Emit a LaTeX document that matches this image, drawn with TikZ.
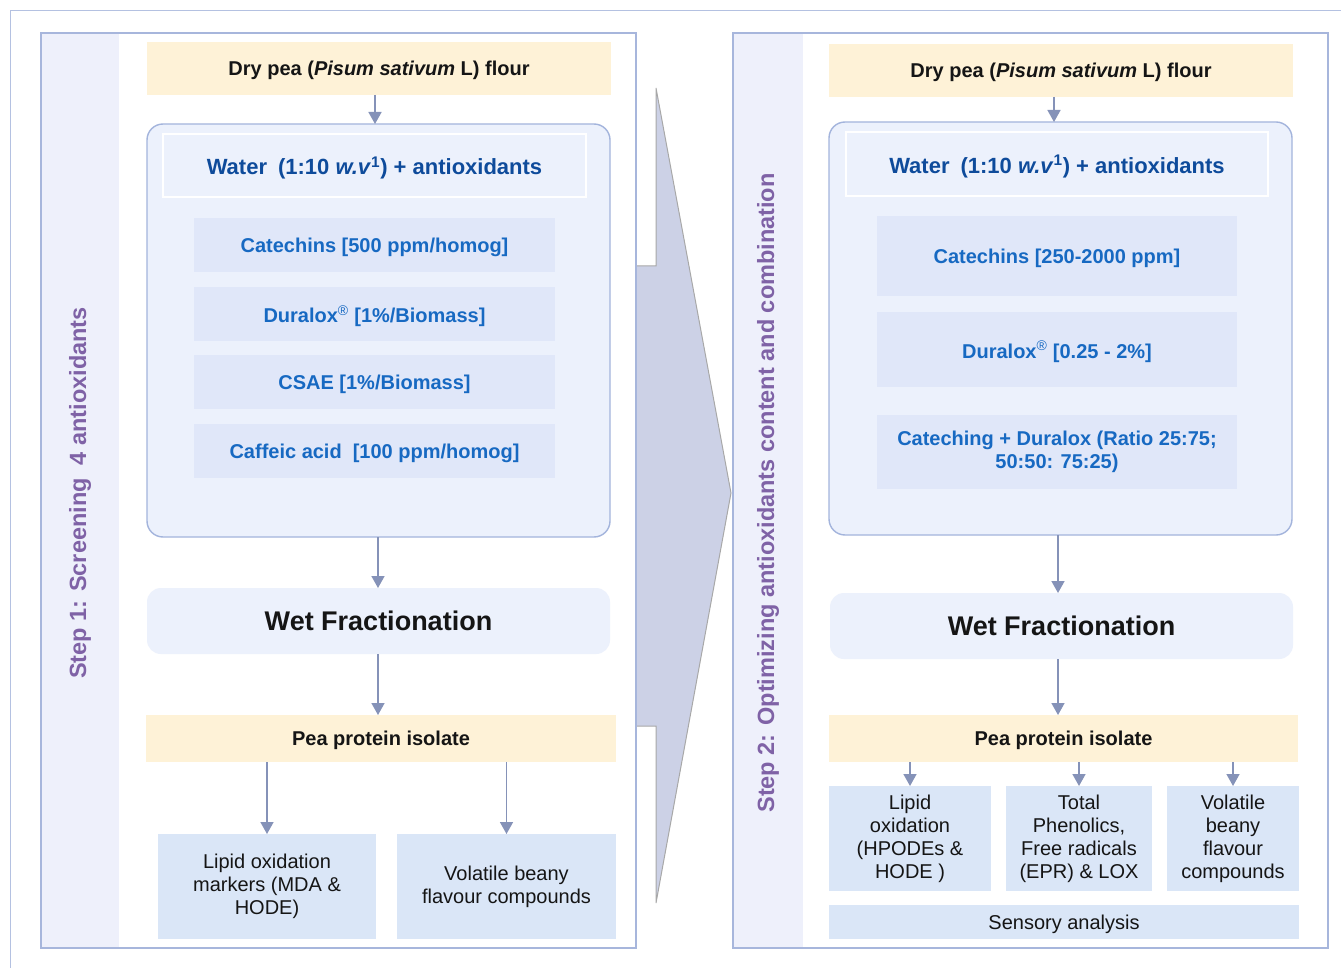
\documentclass[tikz,border=0pt]{standalone}
\usepackage{fontspec}
\setmainfont{Liberation Sans}
\usetikzlibrary{arrows.meta}
\definecolor{framec}{HTML}{A7B6DC}
\definecolor{stripc}{HTML}{EEF0FB}
\definecolor{purplec}{HTML}{7F62A6}
\definecolor{creamc}{HTML}{FEF2D7}
\definecolor{contc}{HTML}{ECF1FC}
\definecolor{contb}{HTML}{A3B4DC}
\definecolor{antic}{HTML}{E0E7F9}
\definecolor{antit}{HTML}{1769C2}
\definecolor{watert}{HTML}{0E4B9B}
\definecolor{resc}{HTML}{DAE6F7}
\definecolor{arrc}{HTML}{8592B8}
\definecolor{bigc}{HTML}{CCD1E6}
\definecolor{bigb}{HTML}{A8A8A8}
\definecolor{textc}{HTML}{151515}
\begin{document}
\begin{tikzpicture}[x=1pt,y=-1pt,
  every node/.style={inner sep=0pt, outer sep=0pt, align=center, text=textc},
  sz/.style 2 args={minimum width=#1, minimum height=#2},
  oneline/.style={text depth=0pt},
  creambox/.style={oneline, fill=creamc, font=\fontsize{20}{23}\selectfont\bfseries},
  container/.style={fill=contc, draw=contb, line width=1.4pt, rounded corners=16pt},
  waterbox/.style={oneline, fill=contc, draw=white, line width=2pt, text=watert, font=\fontsize{22}{25}\selectfont\bfseries},
  antibox/.style={fill=antic, text=antit, font=\fontsize{20}{23}\selectfont\bfseries},
  wetbox/.style={oneline, fill=contc, rounded corners=14pt, font=\fontsize{27}{30}\selectfont\bfseries},
  resbox/.style={fill=resc, font=\fontsize{20}{23}\selectfont},
  steptext/.style={rotate=90, text=purplec, font=\fontsize{23.5}{26}\selectfont\bfseries},
  flow/.style={draw=arrc, line width=1.6pt, -{Triangle[width=13pt,length=12pt]}},
  panel/.style={draw=framec, line width=1.4pt},
]
\useasboundingbox (0,0) rectangle (1341,968);
% outer frame
\draw[framec!85, line width=1pt] (10,968) -- (10,11) -- (1341,11);

% panels
\node[panel, fill=white, sz={595pt}{915pt}] (panelL) at (338.5,490.5) {};
\node[panel, fill=white, sz={595pt}{915pt}] (panelR) at (1030.5,490.5) {};
\fill[stripc] (41,33) rectangle (119,948);
\fill[stripc] (733,33) rectangle (803,948);

% big arrow
\draw[fill=bigc, draw=bigb, line width=1pt] (636,266) -- (656,266) -- (656,88) -- (731,493) -- (656,903) -- (656,726) -- (636,726) -- cycle;

% panel borders on top
\draw[panel] (panelL.north west) rectangle (panelL.south east);
\draw[panel] (panelR.north west) rectangle (panelR.south east);

% step labels
\node[steptext] (step1) at (80,493) {Step 1: Screening\hspace{0.55em}4 antioxidants};
\node[steptext] (step2) at (768,493) {Step 2: Optimizing antioxidants content and combination};

% ---------- left panel ----------
\node[creambox, sz={464pt}{53pt}] (dry1) at (379,68.5) {Dry pea (\textit{Pisum sativum} L) flour};
\node[container, sz={463pt}{413pt}] (cont1) at (378.5,330.5) {};
\node[waterbox, sz={423pt}{63pt}] (water1) at (374.5,165.5) {Water\hspace{0.5em}(1:10 \textit{w.v}\textsuperscript{1}) + antioxidants};
\node[antibox, oneline, sz={361pt}{54pt}] (cat1) at (374.5,245) {Catechins [500 ppm/homog]};
\node[antibox, oneline, sz={361pt}{54pt}] (dur1) at (374.5,314) {Duralox\textsuperscript{\mdseries®} [1\%/Biomass]};
\node[antibox, oneline, sz={361pt}{54pt}] (csae1) at (374.5,382) {CSAE [1\%/Biomass]};
\node[antibox, oneline, sz={361pt}{54pt}] (caf1) at (374.5,451) {Caffeic acid\hspace{0.55em}[100 ppm/homog]};
\node[wetbox, sz={463pt}{66pt}] (wet1) at (378.5,621) {Wet Fractionation};
\node[creambox, sz={470pt}{47pt}] (ppi1) at (381,738.5) {Pea protein isolate};
\node[resbox, sz={218pt}{105pt}] (lip1) at (267,886.5) {Lipid oxidation\\markers (MDA \&\\HODE)};
\node[resbox, sz={219pt}{105pt}] (vol1) at (506.5,886.5) {Volatile beany\\flavour compounds};

\coordinate (ax1) at (375,0);
\coordinate (ax2) at (378,0);
\draw[flow] (dry1.south -| ax1) -- (cont1.north -| ax1);
\draw[flow] (cont1.south -| ax2) -- (wet1.north -| ax2);
\draw[flow] (wet1.south -| ax2) -- (ppi1.north -| ax2);
\draw[flow] (ppi1.south -| lip1.north) -- (lip1.north);
\draw[flow] (ppi1.south -| vol1.north) -- (vol1.north);

% ---------- right panel ----------
\node[creambox, sz={464pt}{53pt}] (dry2) at (1061,70.5) {Dry pea (\textit{Pisum sativum} L) flour};
\node[container, sz={463pt}{413pt}] (cont2) at (1060.5,328.5) {};
\node[waterbox, sz={422pt}{64pt}] (water2) at (1057,164) {Water\hspace{0.5em}(1:10 \textit{w.v}\textsuperscript{1}) + antioxidants};
\node[antibox, oneline, sz={360pt}{80pt}] (cat2) at (1057,256) {Catechins [250-2000 ppm]};
\node[antibox, oneline, sz={360pt}{75pt}] (dur2) at (1057,349.5) {Duralox\textsuperscript{\mdseries®} [0.25 - 2\%]};
\node[antibox, sz={360pt}{74pt}] (comb2) at (1057,452) {Cateching + Duralox (Ratio 25:75;\\50:50: 75:25)};
\node[wetbox, sz={463pt}{66pt}] (wet2) at (1061.5,626) {Wet Fractionation};
\node[creambox, sz={469pt}{47pt}] (ppi2) at (1063.5,738.5) {Pea protein isolate};
\node[resbox, sz={162pt}{105pt}] (lip2) at (910,838.5) {Lipid\\oxidation\\(HPODEs \&\\HODE )};
\node[resbox, sz={146pt}{105pt}] (tot2) at (1079,838.5) {Total\\Phenolics,\\Free radicals\\(EPR) \& LOX};
\node[resbox, sz={132pt}{105pt}] (vol2) at (1233,838.5) {Volatile\\beany\\flavour\\compounds};
\node[resbox, oneline, sz={470pt}{34pt}] (sens2) at (1064,922) {Sensory analysis};

\coordinate (bx1) at (1054,0);
\coordinate (bx2) at (1058,0);
\draw[flow] (dry2.south -| bx1) -- (cont2.north -| bx1);
\draw[flow] (cont2.south -| bx2) -- (wet2.north -| bx2);
\draw[flow] (wet2.south -| bx2) -- (ppi2.north -| bx2);
\draw[flow] (ppi2.south -| lip2.north) -- (lip2.north);
\draw[flow] (ppi2.south -| tot2.north) -- (tot2.north);
\draw[flow] (ppi2.south -| vol2.north) -- (vol2.north);
\end{tikzpicture}
\end{document}
